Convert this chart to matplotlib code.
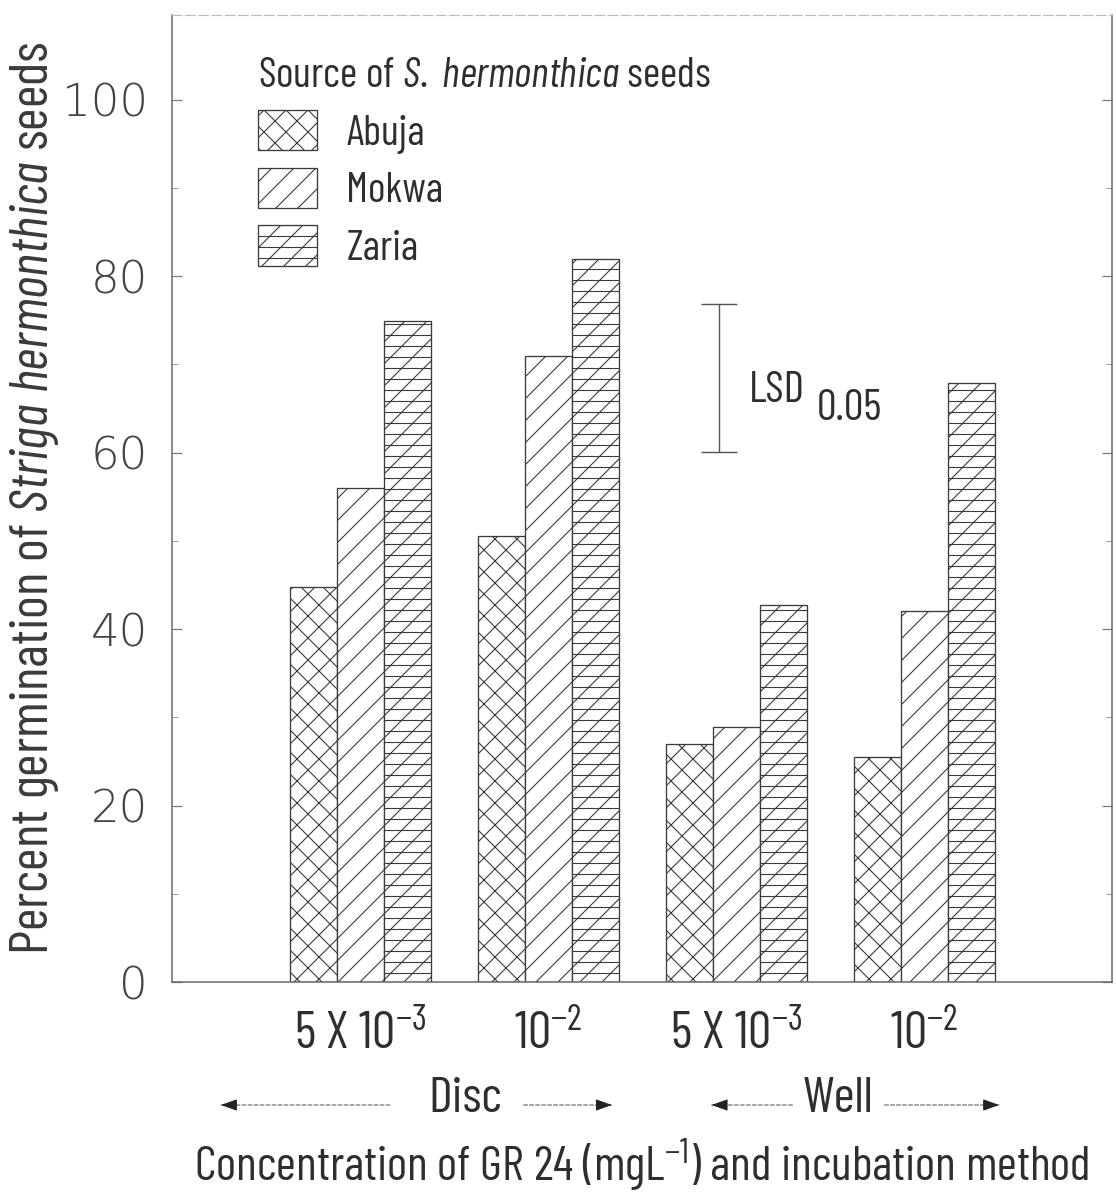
import matplotlib
matplotlib.use("Agg")
import matplotlib.pyplot as plt
from matplotlib.ticker import MultipleLocator
import numpy as np

# ---------------- data ----------------
groups = [r"5 X 10$^{-3}$", r"10$^{-2}$", r"5 X 10$^{-3}$", r"10$^{-2}$"]
sources = ["Abuja", "Mokwa", "Zaria"]
abuja = [44.8, 50.6, 27.0, 25.5]
mokwa = [56.0, 71.0, 28.9, 42.0]
zaria = [74.9, 82.0, 42.7, 67.9]
lsd_low, lsd_high = 60.1, 76.9
yticks = [0, 20, 40, 60, 80, 100]

DPI = 66


def P(px):
    """pixels -> points at this dpi"""
    return px * 72.0 / DPI


FAM = "Barlow Condensed"
NARROW = [FAM, "DejaVu Sans"]
plt.rcParams["font.family"] = NARROW
plt.rcParams["font.weight"] = "normal"
plt.rcParams["mathtext.fontset"] = "custom"
plt.rcParams["mathtext.rm"] = FAM
plt.rcParams["mathtext.it"] = FAM + ":italic"
plt.rcParams["mathtext.bf"] = FAM + ":bold"
plt.rcParams["hatch.linewidth"] = P(1.1)
plt.rcParams["hatch.color"] = "#333333"

TXT = "#2e2e2e"
EDGE = "#3a3a3a"

fig = plt.figure(figsize=(1116 / DPI, 1198 / DPI), dpi=DPI)
ax = fig.add_axes([172 / 1116, 1 - 982 / 1198, 940 / 1116, 967 / 1198])

x = np.arange(len(groups))
w = 0.25
series = [abuja, mokwa, zaria]
hatches = ["x", "/", "/-"]
for k, (vals, name, h) in enumerate(zip(series, sources, hatches)):
    ax.bar(x + (k - 1) * w, vals, width=w, facecolor="white", edgecolor=EDGE,
           hatch=h, linewidth=P(1.3), label=name, zorder=2)

# LSD bar
lsd_x = 1.91
ax.errorbar([lsd_x], [(lsd_low + lsd_high) / 2], yerr=[[(lsd_high - lsd_low) / 2]],
            fmt="none", ecolor="#555555", elinewidth=P(1.4), capsize=P(18), capthick=P(1.4))
ax.text(2.07, 67.0, "LSD", fontsize=P(44), color=TXT, va="center", ha="left")
ax.text(2.43, 65.0, "0.05", fontsize=P(44), color=TXT, va="center", ha="left")

ax.set_xlim(-1.0, 4.0)
ax.set_ylim(0, 109.6)
ax.set_xticks(x)
ax.set_xticklabels(groups, fontsize=P(52), color=TXT)
ax.tick_params(axis="x", length=0, pad=P(28))

ax.set_yticks(yticks)
ax.yaxis.set_minor_locator(MultipleLocator(10))
ax.tick_params(axis="y", which="major", direction="in", length=P(10), width=P(1.2),
               left=True, right=True, color="#777777", pad=P(24))
ax.tick_params(axis="y", which="minor", direction="in", length=P(6), width=P(1.0),
               left=True, right=True, color="#999999")
for lab in ax.get_yticklabels():
    lab.set_family("DejaVu Sans")
    lab.set_fontweight(200)
    lab.set_fontsize(P(45))
    lab.set_color("#444444")

for side in ["left", "right", "bottom"]:
    ax.spines[side].set_color("#666666")
    ax.spines[side].set_linewidth(P(1.5))
ax.spines["top"].set_color("#bbbbbb")
ax.spines["top"].set_linestyle((0, (8, 3)))
ax.spines["top"].set_linewidth(P(1.2))

ax.set_ylabel(r"Percent germination of $\mathit{Striga\ hermonthica}$ seeds",
              fontsize=P(55), color="#3a3a3a", va="center")
ax.yaxis.set_label_coords(-0.146, 0.5)
ax.set_xlabel(r"Concentration of GR 24 (mgL$^{-1}$) and incubation method",
              fontsize=P(48.5), color=TXT, va="center")
ax.xaxis.set_label_coords(0.5, -0.189)

# incubation method annotations
yfig = 1 - 1105 / 1198
ytxt = 1 - 1100 / 1198
for label, cx, (lh, lt), (rt, rh) in [("Disc", 0.56, (-0.74, 0.16), (0.87, 1.34)),
                                       ("Well", 2.54, (1.87, 2.30), (2.79, 3.40))]:
    ax.annotate(label, xy=(cx, ytxt), xycoords=("data", "figure fraction"),
                ha="center", va="center", fontsize=P(51), color=TXT,
                annotation_clip=False)
    for head, tail in [(lh, lt), (rh, rt)]:
        ax.annotate("", xy=(head, yfig), xytext=(tail, yfig),
                    xycoords=("data", "figure fraction"),
                    textcoords=("data", "figure fraction"),
                    arrowprops=dict(arrowstyle="-", linestyle=(0, (4, 2)), color="#555555",
                                    lw=P(1.0), shrinkA=0, shrinkB=0), annotation_clip=False)
        ax.annotate("", xy=(head, yfig), xytext=(head + (0.08 if tail > head else -0.08), yfig),
                    xycoords=("data", "figure fraction"),
                    textcoords=("data", "figure fraction"),
                    arrowprops=dict(arrowstyle="-|>,head_length=1.4,head_width=0.5",
                                    color="#222222", lw=P(1.0), shrinkA=0, shrinkB=0,
                                    mutation_scale=P(10)),
                    annotation_clip=False)

LFS = P(42)
leg = ax.legend(loc="upper left", bbox_to_anchor=((258 - 172) / 940, (982 - 57) / 967),
                frameon=False, fontsize=LFS, handlelength=59 / 42,
                handleheight=1.09, handletextpad=0.7, labelspacing=0.34,
                borderpad=0, borderaxespad=0,
                title=r"Source of $\mathit{S.\ hermonthica}$ seeds",
                title_fontproperties={"family": NARROW, "size": LFS},
                alignment="left")
for t in leg.get_texts():
    t.set_color(TXT)
leg.get_title().set_color(TXT)

fig.savefig("out.png", dpi=DPI)
